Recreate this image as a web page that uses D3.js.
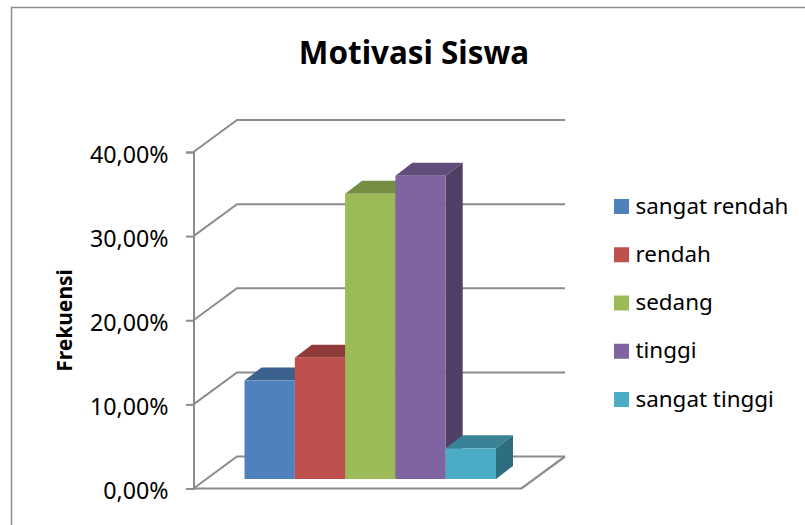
<!DOCTYPE html>
<html><head><meta charset="utf-8">
<script src="https://cdn.jsdelivr.net/npm/d3@7"></script>
<style>html,body{margin:0;padding:0;background:#fff}svg{display:block}text{font-family:"Noto Sans",sans-serif;fill:#000}</style>
</head><body><svg id="c" width="805" height="525"></svg>
<script>
const categories=["sangat rendah","rendah","sedang","tinggi","sangat tinggi"];
const values=[11.7,14.4,33.9,36.05,3.65];
const frontColors=["#4f81bd","#c0504d","#9bbb59","#8064a2","#4bacc6"];
const topColors=["#3c618f","#913c3a","#758e43","#614c7b","#398297"];
const sideColors=["#335276","#773231","#60753a","#503f66","#2f6e7f"];
const axisTicks=[0,10,20,30,40];
const tickLabels=["0,00%","10,00%","20,00%","30,00%","40,00%"];
const titleText="Motivasi Siswa", axisTitle="Frekuensi";
const grey="#8c8c8c";
const svg=d3.select("#c");
svg.append("path").attr("d","M11.5,525V7.5H805").attr("fill","none").attr("stroke",grey).attr("stroke-width",1.5);
const y=d3.scaleLinear().domain([0,40]).range([488.5,152]);
const wall={dx:43.5,dy:-32,xL:193.5,xR:521.5};
const g=svg.append("g");
axisTicks.forEach(t=>{
  g.append("path").attr("d",`M${wall.xL},${y(t)}L${wall.xL+wall.dx},${y(t)+wall.dy}H${wall.xR+wall.dx}`).attr("fill","none").attr("stroke",grey).attr("stroke-width",2);
});
g.append("path").attr("d",`M${wall.xL},${y(0)}H${wall.xR}L${wall.xR+wall.dx},${y(0)+wall.dy}`).attr("fill","none").attr("stroke",grey).attr("stroke-width",2.2);
const axis=d3.axisLeft(y).tickValues(axisTicks).tickFormat((d,i)=>tickLabels[i]).tickSizeOuter(0).tickSize(7.5).tickPadding(17.5);
const ag=svg.append("g").attr("transform",`translate(${wall.xL},0)`).call(axis);
ag.selectAll("line,path").attr("stroke",grey).attr("stroke-width",2);
ag.selectAll("text").attr("font-size",23.2).attr("font-family","Noto Sans").attr("fill","#000").attr("dy",10);
const x=d3.scaleBand().domain(categories).range([244.5,496]).padding(0);
const barY=d3.scaleLinear().domain([0,40]).range([479,142.5]);
const depth={dx:17,dy:-13};
const bars=svg.append("g").selectAll("g").data(categories).join("g");
bars.each(function(c,i){
  const s=d3.select(this),x0=x(c),x1=x0+x.bandwidth(),t=barY(values[i]),b=barY(0);
  s.append("path").attr("d",`M${x0},${t}L${x0+depth.dx},${t+depth.dy}H${x1+depth.dx}L${x1},${t}Z`).attr("fill",topColors[i]);
  s.append("path").attr("d",`M${x1},${t}L${x1+depth.dx},${t+depth.dy}V${b+depth.dy}L${x1},${b}Z`).attr("fill",sideColors[i]);
  s.append("rect").attr("x",x0).attr("y",t).attr("width",x.bandwidth()).attr("height",b-t).attr("fill",frontColors[i]);
});
svg.append("text").attr("x",414).attr("y",63.5).attr("text-anchor","middle").attr("font-size",31.4).attr("font-weight",700).text(titleText);
svg.append("text").attr("transform","translate(72,320.5) rotate(-90)").attr("text-anchor","middle").attr("font-size",21).attr("font-weight",700).text(axisTitle);
const ly=d3.scalePoint().domain(categories).range([206.5,399.5]);
const leg=svg.append("g").selectAll("g").data(categories).join("g").attr("transform",c=>`translate(614,${ly(c)})`);
leg.append("rect").attr("x",0).attr("y",-7.5).attr("width",15).attr("height",15).attr("fill",(c,i)=>frontColors[i]);
leg.append("text").attr("x",21.5).attr("y",7).attr("font-size",22.4).text(c=>c);
</script></body></html>
